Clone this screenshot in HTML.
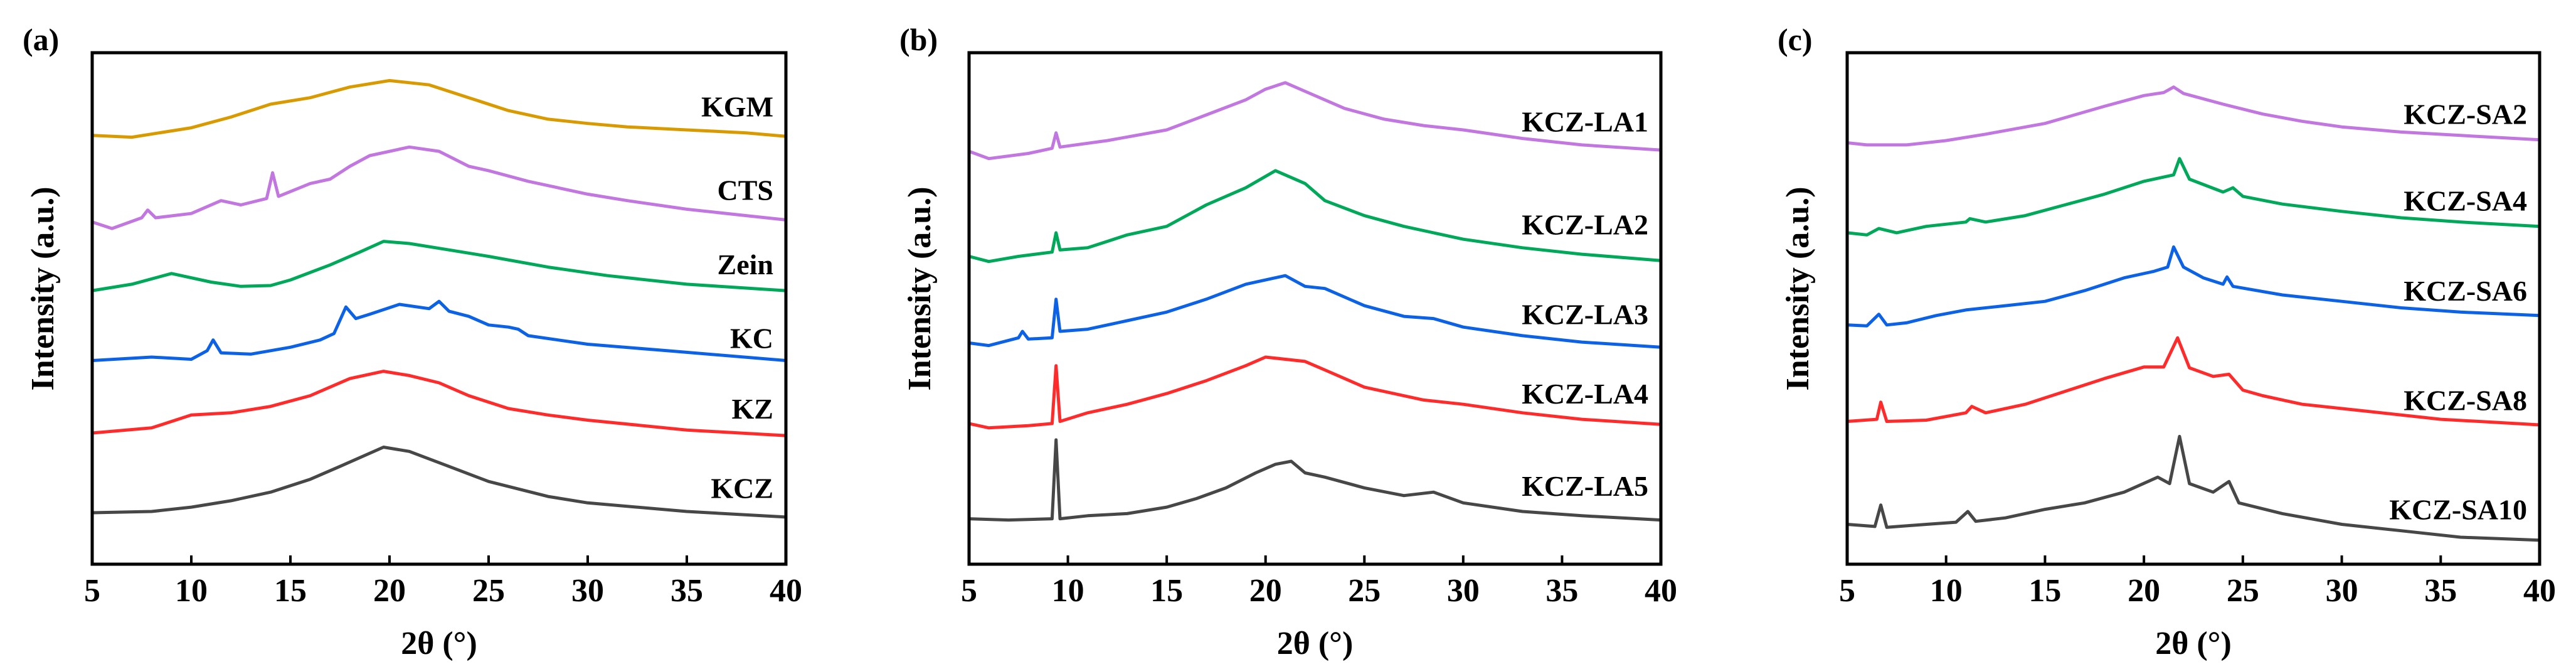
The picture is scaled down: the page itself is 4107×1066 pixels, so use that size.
<!DOCTYPE html>
<html><head><meta charset="utf-8"><style>
html,body{margin:0;padding:0;background:#fff;}
svg{display:block;font-family:"Liberation Serif",serif;font-weight:bold;}
</style></head><body>
<svg id="fig" width="4107" height="1066" viewBox="0 0 4107 1066" xmlns="http://www.w3.org/2000/svg"></svg>
<script>
// Tick labels shared
const xTicks = [5,10,15,20,25,30,35,40];
// Panel (a) series: [2theta, intensity a.u.]
const aNames = ["KGM","CTS","Zein","KC","KZ","KCZ"];
const aColors = ["#d99a00","#c276e0","#00a859","#0b62e6","#ff2a2a","#474747"];
const aLabelY = [1068,873,700,528,363,178];
const aKGM = [[5,1000],[7,996],[10,1018],[12,1043],[14,1073],[16,1088],[18,1113],[20,1128],[22,1118],[24,1088],[26,1058],[28,1038],[30,1028],[32,1020],[35,1013],[38,1006],[40,998]];
const aCTS = [[5,798],[6,783],[7.5,808],[7.8,826],[8.2,808],[10,818],[11.5,848],[12.5,838],[13.8,853],[14.1,913],[14.4,858],[16,888],[17,898],[18,928],[19,953],[21,973],[22.5,963],[24,928],[25,918],[27,893],[30,863],[32,848],[35,828],[38,813],[40,803]];
const aZein = [[5,638],[7,653],[9,678],[11,658],[12.5,648],[14,650],[15,663],[17,698],[18.5,728],[19.7,753],[21,748],[23,733],[25,718],[28,693],[31,673],[35,653],[40,638]];
const aKC = [[5,475],[8,483],[10,478],[10.8,498],[11.1,523],[11.5,493],[13,490],[15,506],[16.5,523],[17.2,538],[17.8,600],[18.3,573],[19,583],[20.5,606],[22,596],[22.5,613],[23,590],[24,578],[25,558],[26,553],[26.5,548],[27,533],[30,513],[34,498],[40,475]];
const aKZ = [[5,306],[8,318],[10,348],[12,353],[14,368],[16,393],[18,433],[19.7,450],[21,440],[22.5,423],[24,393],[26,363],[28,348],[30,336],[35,313],[40,300]];
const aKCZ = [[5,120],[8,123],[10,133],[12,148],[14,168],[16,198],[17.5,228],[19.7,273],[21,263],[23,228],[25,193],[28,158],[30,143],[35,123],[40,110]];
// Panel (b)
const bNames = ["KCZ-LA1","KCZ-LA2","KCZ-LA3","KCZ-LA4","KCZ-LA5"];
const bColors = ["#c276e0","#00a859","#0b62e6","#ff2a2a","#474747"];
const bLabelY = [1033,793,583,398,183];
const bLA1 = [[5,963],[6,946],[8,958],[9.2,970],[9.4,1006],[9.6,973],[12,988],[15,1013],[17,1048],[19,1083],[20,1108],[21,1123],[22,1103],[24,1063],[26,1038],[28,1023],[30,1013],[33,993],[36,978],[40,966]];
const bLA2 = [[5,718],[6,706],[7.5,718],[9.2,728],[9.4,773],[9.6,733],[11,738],[13,768],[15,788],[17,838],[19,878],[20.5,918],[22,888],[23,848],[25,813],[27,788],[30,758],[33,738],[36,723],[40,708]];
const bLA3 = [[5,516],[6,510],[7.5,528],[7.7,543],[8,525],[9.2,528],[9.4,618],[9.6,543],[11,548],[13,568],[15,588],[17,618],[19,653],[21,673],[22,648],[23,643],[25,603],[27,578],[28.5,573],[30,553],[33,533],[36,518],[40,506]];
const bLA4 = [[5,328],[6,318],[8,323],[9.2,328],[9.4,463],[9.6,333],[11,353],[13,373],[15,398],[17,428],[19,463],[20,483],[22,473],[23,453],[25,413],[28,383],[30,373],[33,353],[36,338],[40,326]];
const bLA5 = [[5,106],[7,103],[9.2,106],[9.4,290],[9.6,106],[11,113],[13,118],[15,133],[16.5,153],[18,178],[19.5,213],[20.5,233],[21.3,240],[22,213],[23,203],[25,178],[27,160],[28.5,168],[30,143],[33,123],[36,113],[40,103]];
// Panel (c)
const cNames = ["KCZ-SA2","KCZ-SA4","KCZ-SA6","KCZ-SA8","KCZ-SA10"];
const cColors = ["#c276e0","#00a859","#0b62e6","#ff2a2a","#474747"];
const cLabelY = [1050,848,638,383,128];
const cSA2 = [[5,983],[6,978],[8,978],[10,988],[12,1003],[15,1028],[18,1068],[20,1093],[21,1100],[21.5,1113],[22,1098],[24,1073],[26,1050],[28,1033],[30,1020],[33,1008],[36,1000],[40,990]];
const cSA4 = [[5,773],[6,768],[6.6,783],[7.5,773],[9,788],[11,798],[11.2,806],[12,798],[14,813],[16,838],[18,863],[20,893],[21.5,908],[21.8,946],[22.3,898],[24,868],[24.5,878],[25,858],[27,840],[30,823],[33,808],[36,798],[40,788]];
const cSA6 = [[5,558],[6,556],[6.6,583],[7,558],[8,563],[9.5,580],[11,593],[13,603],[15,613],[17,638],[19,668],[20.5,683],[21.2,693],[21.5,740],[22,693],[23,668],[24,653],[24.2,670],[24.5,648],[27,628],[30,613],[33,598],[36,588],[40,580]];
const cSA8 = [[5,333],[6.5,338],[6.7,378],[7,333],[9,336],[11,353],[11.3,368],[12,353],[14,373],[16,403],[18,433],[20,460],[21,460],[21.7,528],[22.3,458],[23.5,438],[24.3,443],[25,406],[26,393],[28,373],[31,358],[35,338],[40,325]];
const cSA10 = [[5,93],[6.4,88],[6.7,138],[7,86],[9,93],[10.5,98],[11.1,123],[11.5,100],[13,108],[15,128],[17,143],[19,168],[20.7,203],[21.3,188],[21.8,298],[22.3,188],[23.5,168],[24.3,193],[24.8,143],[27,118],[30,93],[33,78],[36,63],[40,56]];

const NS = "http://www.w3.org/2000/svg";
const svg = document.getElementById("fig");
function mk(tag, attrs, parent){ const e=document.createElementNS(NS,tag); for(const k in attrs) e.setAttribute(k,attrs[k]); (parent||svg).appendChild(e); return e; }

function panel(letter, left, right, names, colors, labelY, series){
  const top=84, bottom=899, yMax=1193;
  const g = mk("g",{});
  
  
  const xs = v => left + (v-5)/35*(right-left);
  const ys = v => bottom - v/yMax*(bottom-top);
  series.forEach((s,i)=>{
    const d = s.map((p,j)=>(j?"L":"M")+xs(p[0]).toFixed(1)+","+ys(p[1]).toFixed(1)).join("");
    const path = mk("path",{d:d,fill:"none",stroke:colors[i],"stroke-width":5,"stroke-linejoin":"round"},g);
    
    
    const t = mk("text",{x:right-20,y:ys(labelY[i])+16,"text-anchor":"end","font-size":46,fill:"#000"},g);
    t.textContent = names[i];
    
    
  });
  const box = mk("rect",{x:left,y:top,width:right-left,height:bottom-top,fill:"none",stroke:"#000","stroke-width":5},g);
  
  
  xTicks.forEach(v=>{
    const x=xs(v);
    const tk = mk("line",{x1:x,x2:x,y1:bottom,y2:bottom-14,stroke:"#000","stroke-width":4},g);
    
    
    const tl = mk("text",{x:x,y:958,"text-anchor":"middle","font-size":52},g);
    tl.textContent = v;
    
    
  });
  const xt = mk("text",{x:(left+right)/2,y:1042,"text-anchor":"middle","font-size":52},g);
  xt.textContent = "2θ (°)";
  
  
  const cx = left-80, cy=460;
  const yt = mk("text",{x:cx,y:cy+18,"text-anchor":"middle","font-size":52,transform:"rotate(-90 "+cx+" "+cy+")"},g);
  yt.textContent = "Intensity (a.u.)";
  
  
  const pl = mk("text",{x:left-111,y:80,"font-size":50},g);
  pl.textContent = "("+letter+")";
  
  
}
panel("a",147,1253,aNames,aColors,aLabelY,[aKGM,aCTS,aZein,aKC,aKZ,aKCZ]);
panel("b",1545,2648,bNames,bColors,bLabelY,[bLA1,bLA2,bLA3,bLA4,bLA5]);
panel("c",2945,4049,cNames,cColors,cLabelY,[cSA2,cSA4,cSA6,cSA8,cSA10]);
</script>
</body></html>
